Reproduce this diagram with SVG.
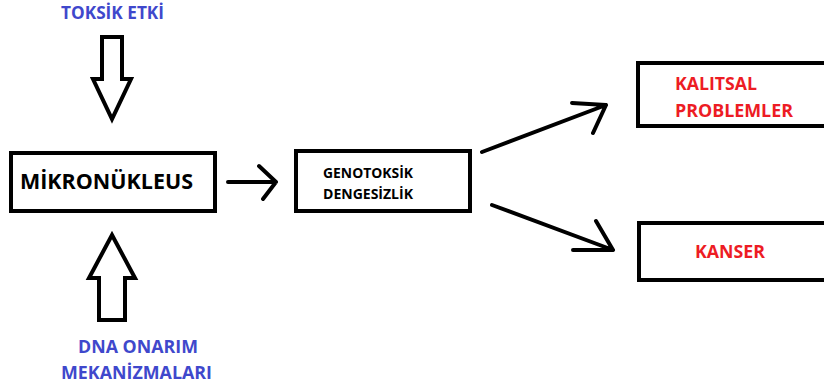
<svg xmlns="http://www.w3.org/2000/svg" width="824" height="387" viewBox="0 0 824 387">
<style>
.box{fill:#fff;stroke:#000;stroke-width:4}
.arr{fill:none;stroke:#000;stroke-width:4;stroke-linecap:round;stroke-linejoin:round}
.big{fill:#fff;stroke:#000;stroke-width:4;stroke-linejoin:miter}
text{font-family:"Open Sans","Liberation Sans",sans-serif;font-weight:bold}
.blue{fill:#3f48cc;font-size:18px}
.red{fill:#ed1c24;font-size:18px}
.blk{fill:#000}
</style>
<rect width="824" height="387" fill="#fff"/>
<g id="toksik">
<polygon class="big" points="102,37 122,37 122,79 131,79 112,119 93,79 102,79"/>
<text class="blue" x="61" y="19" textLength="103" lengthAdjust="spacingAndGlyphs">TOKSİK ETKİ</text>
</g>
<g id="dna">
<polygon class="big" points="112,235 135,278 125,278 125,320 99,320 99,278 89,278"/>
<text class="blue" x="78" y="353" textLength="120" lengthAdjust="spacingAndGlyphs">DNA ONARIM</text>
<text class="blue" x="61" y="379" textLength="151" lengthAdjust="spacingAndGlyphs">MEKANİZMALARI</text>
</g>
<g id="mikronukleus">
<rect class="box" x="11" y="153" width="204" height="58"/>
<text class="blk" x="20" y="189" font-size="22" textLength="173" lengthAdjust="spacingAndGlyphs">MİKRONÜKLEUS</text>
</g>
<g id="genotoksik">
<rect class="box" x="296" y="151" width="174" height="60"/>
<text class="blk" x="323" y="178" font-size="14" textLength="90" lengthAdjust="spacingAndGlyphs">GENOTOKSİK</text>
<text class="blk" x="323" y="199" font-size="14" textLength="90" lengthAdjust="spacingAndGlyphs">DENGESİZLİK</text>
</g>
<g id="kalitsal">
<rect class="box" x="638" y="63" width="200" height="63"/>
<text class="red" x="675" y="90" textLength="82" lengthAdjust="spacingAndGlyphs">KALITSAL</text>
<text class="red" x="675" y="117" textLength="118" lengthAdjust="spacingAndGlyphs">PROBLEMLER</text>
</g>
<g id="kanser">
<rect class="box" x="639" y="223" width="200" height="57"/>
<text class="red" x="695" y="258" textLength="70" lengthAdjust="spacingAndGlyphs">KANSER</text>
</g>
<g id="connectors">
<path class="arr" d="M228,182 L276,182 M259,166 L276,182 L263,199"/>
<path class="arr" d="M482,152 L606,105 M572,103 L606,105 L593,133"/>
<path class="arr" d="M492,205 L613,250 M596,221 L613,250 L573,250"/>
</g>
</svg>
